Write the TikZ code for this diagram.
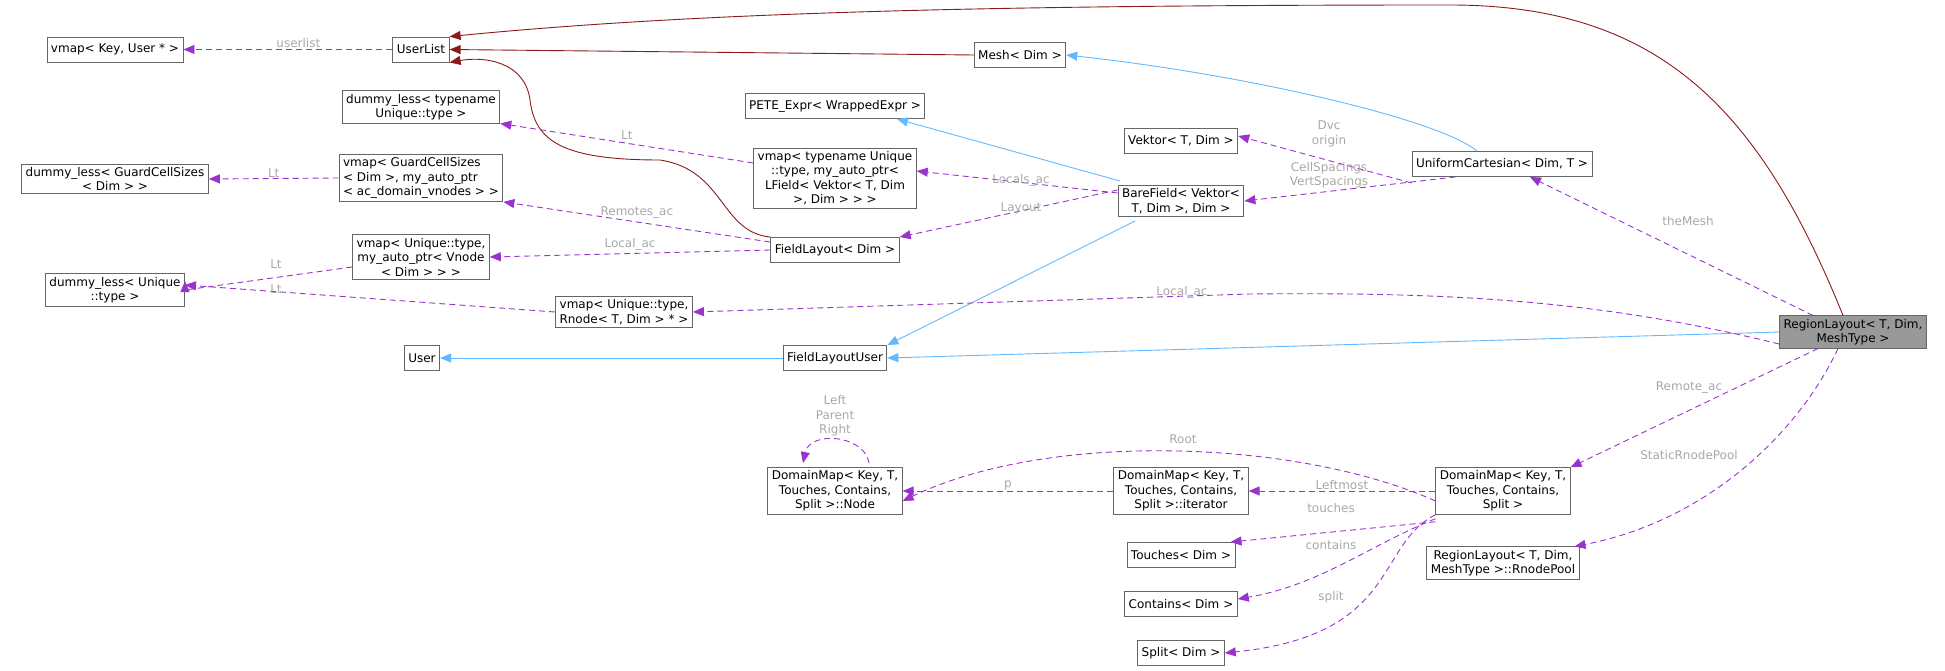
\documentclass[tikz,border=0pt]{standalone}
\usepackage{fontspec}
\setmainfont{DejaVu Sans}
\usetikzlibrary{arrows.meta}
\definecolor{bord}{HTML}{666666}
\definecolor{dep}{HTML}{9A32CD}
\definecolor{inh}{HTML}{63B8FF}
\definecolor{red4}{HTML}{8B1A1A}
\definecolor{lab}{HTML}{A8A8A8}
\begin{document}
\begin{tikzpicture}[x=1pt,y=-1pt,
  box/.style={draw=bord,line width=0.9pt,fill=white,inner xsep=4pt,inner ysep=3pt,align=center,font=\fontsize{12}{14.5}\selectfont,minimum height=25pt},
  usage/.style={dep,dashed,dash pattern=on 6pt off 4pt,line width=0.9pt,-{Triangle[length=11pt,width=9pt]}},
  inher/.style={inh,line width=0.9pt,-{Triangle[length=11pt,width=9pt]}},
  owns/.style={red4,line width=0.9pt,-{Triangle[length=11pt,width=9pt]}},
  lbl/.style={text=lab,font=\fontsize{12}{14.5}\selectfont,align=center,inner sep=1pt}]
\useasboundingbox (0,0) rectangle (1945,671);
% nodes
\node[box] (vkey) at (115,49.5) {vmap< Key, User * >};
\node[box] (ul) at (421,49.5) {UserList};
\node[box] (mesh) at (1020,55) {Mesh< Dim >};
\node[box] (pete) at (835,106) {PETE\_Expr< WrappedExpr >};
\node[box] (dtn) at (421,107) {dummy\_less< typename\\Unique::type >};
\node[box] (vtn) at (835,178) {vmap< typename Unique\\::type, my\_auto\_ptr<\\LField< Vektor< T, Dim\\>, Dim > > >};
\node[box] (dg) at (115,179) {dummy\_less< GuardCellSizes\\< Dim > >};
\node[box,align=left] (vg) at (421,178) {vmap< GuardCellSizes\\< Dim >, my\_auto\_ptr\\< ac\_domain\_vnodes > >};
\node[box] (vek) at (1181,141) {Vektor< T, Dim >};
\node[box] (uc) at (1502,164) {UniformCartesian< Dim, T >};
\node[box] (bf) at (1181,201) {BareField< Vektor<\\T, Dim >, Dim >};
\node[box] (fl) at (835,250) {FieldLayout< Dim >};
\node[box] (vuv) at (421,257) {vmap< Unique::type,\\my\_auto\_ptr< Vnode\\< Dim > > >};
\node[box] (du) at (115,290) {dummy\_less< Unique\\::type >};
\node[box] (vr) at (624,312) {vmap< Unique::type,\\Rnode< T, Dim > * >};
\node[box] (usr) at (422,358) {User};
\node[box] (flu) at (835,358) {FieldLayoutUser};
\node[box,fill={rgb,255:red,153;green,153;blue,153}] (rl) at (1853,332) {RegionLayout< T, Dim,\\MeshType >};
\node[box] (dmn) at (835,491) {DomainMap< Key, T,\\Touches, Contains,\\Split >::Node};
\node[box] (dmi) at (1181,491) {DomainMap< Key, T,\\Touches, Contains,\\Split >::iterator};
\node[box] (dms) at (1503,491) {DomainMap< Key, T,\\Touches, Contains,\\Split >};
\node[box] (tou) at (1181,555) {Touches< Dim >};
\node[box] (con) at (1181,604) {Contains< Dim >};
\node[box] (spl) at (1181,653) {Split< Dim >};
\node[box] (rp) at (1503,563) {RegionLayout< T, Dim,\\MeshType >::RnodePool};
% red (ownership) edges
\draw[owns] (rl.north) ++(-10,0) .. controls (1760,110) and (1660,5) .. (1450,5) .. controls (1000,5) and (700,12) .. (ul.north east);
\draw[owns] (mesh.west) -- (ul.east);
\draw[owns] (fl.north west) .. controls (720,232) and (725,170) .. (660,160) .. controls (560,160) and (535,140) .. (530,100) .. controls (525,62) and (485,56) .. (ul.south east);
% inheritance
\draw[inher] (uc.north) ++(-25,0) .. controls (1440,120) and (1250,75) .. (mesh.east);
\draw[inher] (1120,181) -- (897,119);
\draw[inher] (1135,221) -- (flu.north east);
\draw[inher] (rl.west) -- (flu.east);
\draw[inher] (flu.west) -- (usr.east);
% usage
\draw[usage] (ul) -- (vkey) node[lbl,pos=0.45,above] {userlist};
\draw[usage] (vtn.west) ++(0,-15) -- (dtn.south east) node[lbl,pos=0.5,above=2pt] {Lt};
\draw[usage] (fl.north west) ++(0,5) -- (vg.south east) node[lbl,pos=0.5,above=2pt] {Remotes\_ac};
\draw[usage] (fl.west) -- (vuv.east) node[lbl,pos=0.5,above=2pt] {Local\_ac};
\draw[usage] (vg.west) -- (dg.east) node[lbl,pos=0.5,above] {Lt};
\draw[usage] (vuv.west) ++(0,10) -- (du.east) ++(0,-9) node[lbl] at (276,264) {Lt};
\draw[usage] (vr.west) -- ([yshift=5pt]du.east) node[lbl] at (276,289) {Lt};
\draw[usage] ([yshift=-12pt]rl.west) .. controls (1600,300) and (1450,292) .. (1250,294) -- (vr.east) node[lbl] at (1182,292) {Local\_ac};
\draw[usage] ([yshift=8pt]bf.west) -- ([yshift=7pt]vtn.east) node[lbl] at (1021,180) {Locals\_ac};
\draw[usage] ([yshift=11pt]bf.west) -- (fl.north east) node[lbl] at (1021,208) {Layout};
\draw[usage] ([yshift=-6pt]uc.south west) -- ([yshift=5pt]vek.east) node[lbl] at (1329,134) {Dvc\\origin};
\draw[usage] ([xshift=44pt]uc.south west) -- (bf.east) node[lbl] at (1329,175) {CellSpacings\\VertSpacings};
\draw[usage] ([xshift=-40pt]rl.north) -- ([xshift=28pt]uc.south) node[lbl] at (1688,221) {theMesh};
\draw[usage] ([xshift=-35pt]rl.south) -- (dms.north east) node[lbl] at (1689,388) {Remote\_ac};
\draw[usage] ([xshift=-15pt]rl.south) .. controls (1800,430) and (1710,520) .. ([xshift=-5pt]rp.north east) node[lbl] at (1689,455) {StaticRnodePool};
\draw[usage] (869,463) .. controls (865,435) and (810,430) .. (803,463);
\node[lbl] at (835,416) {Left\\Parent\\Right};
\draw[usage] ([yshift=-10pt]dms.west) .. controls (1300,440) and (1050,430) .. ([yshift=-10pt]dmn.east) node[lbl] at (1183,439) {Root};
\draw[usage] (dmi.west) -- (dmn.east) node[lbl,pos=0.5,above] {p};
\draw[usage] (dms.west) -- (dmi.east) node[lbl,pos=0.5,above] {Leftmost};
\draw[usage] ([yshift=-7pt]dms.south west) -- ([xshift=-5pt]tou.north east) node[lbl] at (1331,508) {touches};
\draw[usage] ([yshift=-4pt]dms.south west) .. controls (1370,545) and (1320,585) .. ([yshift=5pt]con.east) node[lbl] at (1331,545) {contains};
\draw[usage] (dms.south west) .. controls (1375,545) and (1400,635) .. (spl.east) node[lbl] at (1331,597) {split};
\end{tikzpicture}
\end{document}
